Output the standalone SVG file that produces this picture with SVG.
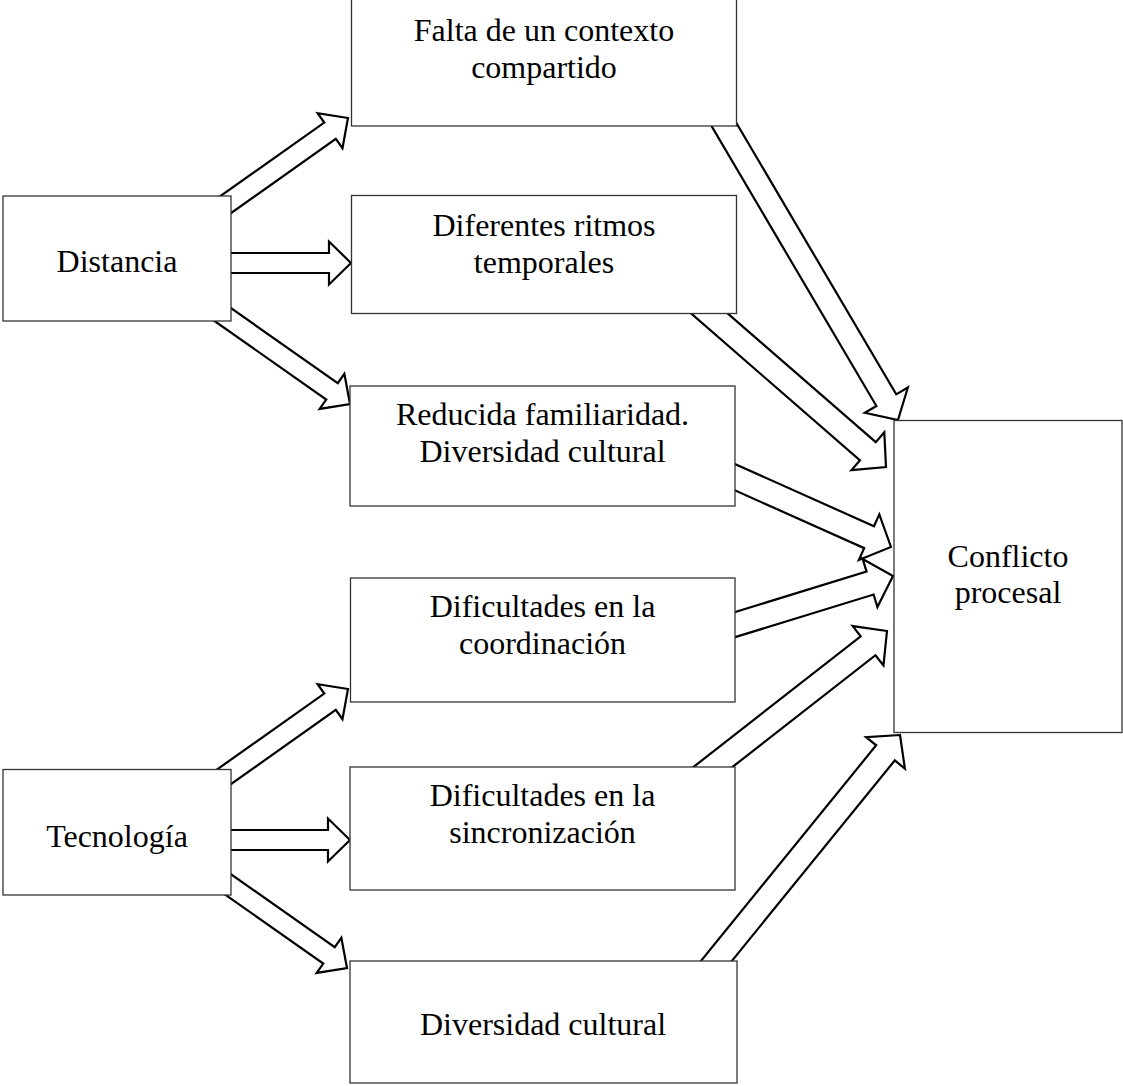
<svg xmlns="http://www.w3.org/2000/svg" xmlns:xlink="http://www.w3.org/1999/xlink" width="1123" height="1086" viewBox="0 0 1123 1086">
<style>
.arr{fill:#fff;stroke:#000;stroke-width:2.2;stroke-linejoin:miter;stroke-miterlimit:6}
.box{fill:#fff;stroke:#333;stroke-width:1.3}
.t{font-family:"Liberation Serif","Times New Roman",serif;font-size:32px;fill:#000;text-anchor:middle}
</style>
<defs>
<path id="d170" d="M0,0 L-22,-21.5 L-22,-10 L-170,-10 L-170,10 L-22,10 L-22,21.5 Z"/>
<path id="d150" d="M0,0 L-22,-21.5 L-22,-10 L-150,-10 L-150,10 L-22,10 L-22,21.5 Z"/>
</defs>
<rect width="1123" height="1086" fill="#fff"/>
<g id="connectors">
<use xlink:href="#d170" href="#d170" class="arr" transform="translate(348,118) rotate(-35.3)"/>
<use xlink:href="#d150" href="#d150" class="arr" transform="translate(351,263)"/>
<use xlink:href="#d170" href="#d170" class="arr" transform="translate(350,404) rotate(35.1)"/>
<use xlink:href="#d170" href="#d170" class="arr" transform="translate(348,689) rotate(-35.3)"/>
<use xlink:href="#d150" href="#d150" class="arr" transform="translate(350,840)"/>
<use xlink:href="#d170" href="#d170" class="arr" transform="translate(347,968) rotate(35.1)"/>
<path class="arr" transform="translate(898,420) rotate(59.5)" d="M0,0 L-23,-25 L-23,-11.5 L-360,-11.5 L-360,11.5 L-23,11.5 L-23,25 Z"/>
<path class="arr" transform="translate(886,467) rotate(41)" d="M0,0 L-24,-25 L-24,-12 L-270,-12 L-270,12 L-24,12 L-24,25 Z"/>
<path class="arr" transform="translate(891,547) rotate(24.1)" d="M0,0 L-24,-25 L-24,-12 L-200,-12 L-200,12 L-24,12 L-24,25 Z"/>
<path class="arr" transform="translate(893,576) rotate(-17.1)" d="M0,0 L-24,-25 L-24,-12 L-190,-12 L-190,12 L-24,12 L-24,25 Z"/>
<path class="arr" transform="translate(887,631) rotate(-38)" d="M0,0 L-24,-25 L-24,-12 L-240,-12 L-240,12 L-24,12 L-24,25 Z"/>
<path class="arr" transform="translate(900,735) rotate(-50.9)" d="M0,0 L-23,-25 L-23,-12 L-310,-12 L-310,12 L-23,12 L-23,25 Z"/>
</g>
<g id="n-distancia">
<rect class="box" x="3" y="196" width="228" height="125"/>
<text class="t" x="117" y="272">Distancia</text>
</g>
<g id="n-tecnologia">
<rect class="box" x="3" y="769.5" width="228" height="125.5"/>
<text class="t" x="117" y="847">Tecnología</text>
</g>
<g id="n-falta">
<rect class="box" x="351.5" y="-2" width="385" height="128"/>
<text class="t" x="544" y="41">Falta de un contexto</text>
<text class="t" x="544" y="78">compartido</text>
</g>
<g id="n-ritmos">
<rect class="box" x="351.5" y="195.5" width="385" height="118"/>
<text class="t" x="544" y="236">Diferentes ritmos</text>
<text class="t" x="544" y="273">temporales</text>
</g>
<g id="n-reducida">
<rect class="box" x="350" y="386" width="385" height="120"/>
<text class="t" x="542.5" y="425">Reducida familiaridad.</text>
<text class="t" x="542.5" y="462">Diversidad cultural</text>
</g>
<g id="n-coordinacion">
<rect class="box" x="350.5" y="578" width="384.5" height="124"/>
<text class="t" x="542.5" y="617">Dificultades en la</text>
<text class="t" x="542.5" y="654">coordinación</text>
</g>
<g id="n-sincronizacion">
<rect class="box" x="350" y="767" width="385" height="123"/>
<text class="t" x="542.5" y="806">Dificultades en la</text>
<text class="t" x="542.5" y="843">sincronización</text>
</g>
<g id="n-diversidad">
<rect class="box" x="350" y="961" width="387" height="122"/>
<text class="t" x="543" y="1035">Diversidad cultural</text>
</g>
<g id="n-conflicto">
<rect class="box" x="894" y="420.5" width="228" height="312"/>
<text class="t" x="1008" y="567">Conflicto</text>
<text class="t" x="1008" y="603">procesal</text>
</g>
</svg>
